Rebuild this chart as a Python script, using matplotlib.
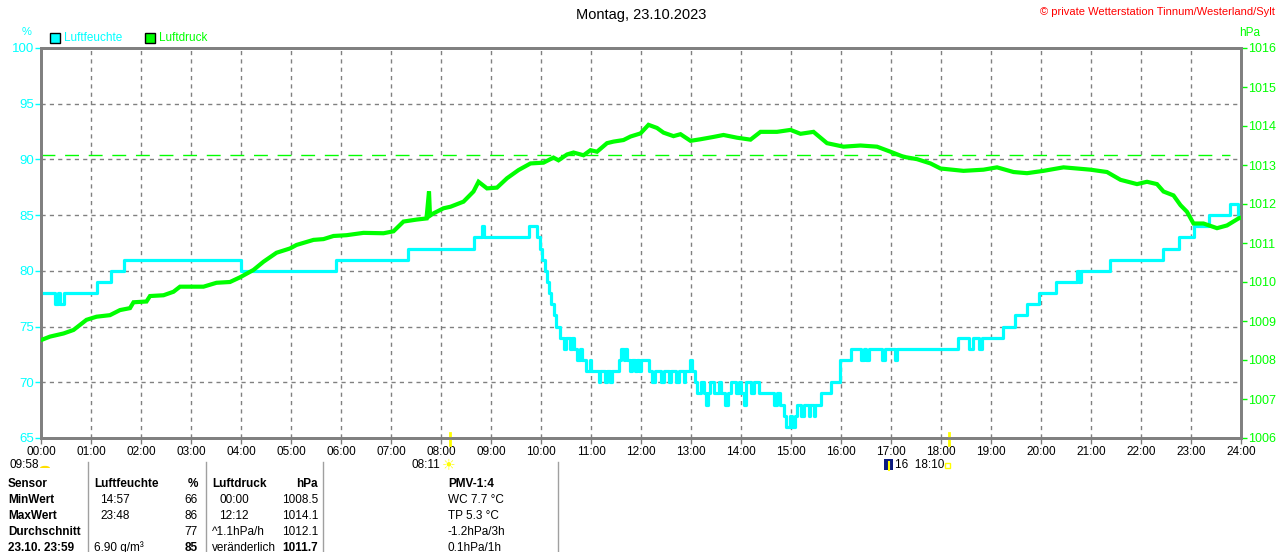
import matplotlib
matplotlib.use("Agg")
import matplotlib.pyplot as plt
from matplotlib.patches import Rectangle, Wedge

plt.rcParams['font.family'] = ['Liberation Sans', 'DejaVu Sans']
plt.rcParams['font.size'] = 8

# Luftfeuchte (%), step values: (hour, value)
hum_t = [0, 0.28, 0.33, 0.38, 0.45, 1.11, 1.39, 1.66, 3.99, 5.89, 7.34, 8.65, 8.82, 8.86,
         9.75, 9.92, 9.97, 10.02, 10.07, 10.11, 10.15, 10.20, 10.25, 10.30, 10.37,
         10.45, 10.50, 10.58, 10.62, 10.66, 10.72, 10.78, 10.82, 10.90, 10.97, 11.00,
         11.15, 11.18, 11.28, 11.31, 11.38, 11.42, 11.55, 11.60, 11.65, 11.68, 11.72,
         11.78, 11.82, 11.88, 11.92, 11.96, 12.00, 12.15, 12.22, 12.27, 12.40, 12.45,
         12.55, 12.60, 12.70, 12.75, 12.85, 12.88, 12.97, 13.02, 13.08, 13.12, 13.20,
         13.25, 13.30, 13.33, 13.38, 13.45, 13.55, 13.60, 13.68, 13.73, 13.80, 13.90,
         13.95, 14.00, 14.05, 14.09, 14.20, 14.25, 14.35, 14.65, 14.72, 14.78, 14.85,
         14.90, 14.97, 15.02, 15.07, 15.12, 15.20, 15.25, 15.35, 15.38, 15.45, 15.48,
         15.60, 15.80, 15.98, 16.20, 16.40, 16.45, 16.50, 16.55, 16.83, 16.87, 17.08,
         17.12, 18.34, 18.55, 18.65, 18.75, 18.82, 19.24, 19.47, 19.72, 19.95, 20.30,
         20.72, 20.76, 20.80, 21.37, 22.44, 22.75, 23.05, 23.35, 23.77, 23.93, 24.00]
hum_v = [78, 77, 78, 77, 78, 79, 80, 81, 80, 81, 82, 83, 84, 83,
         84, 83, 82, 81, 80, 79, 78, 77, 76, 75, 74,
         73, 74, 73, 74, 73, 72, 73, 72, 71, 72, 71,
         70, 71, 70, 71, 70, 71, 72, 73, 72, 73, 72,
         71, 72, 71, 72, 71, 72, 71, 70, 71, 70, 71,
         70, 71, 70, 71, 70, 71, 72, 71, 70, 69, 70,
         69, 68, 69, 70, 69, 70, 69, 68, 69, 70, 69,
         70, 69, 68, 70, 69, 70, 69, 68, 69, 68, 67,
         66, 67, 66, 67, 68, 67, 68, 67, 68, 67, 68,
         69, 70, 72, 73, 72, 73, 72, 73, 72, 73, 72,
         73, 74, 73, 74, 73, 74, 75, 76, 77, 78, 79,
         80, 79, 80, 81, 82, 83, 84, 85, 86, 85, 85]

# Luftdruck (hPa)
pres_t = [0, 0.18, 0.45, 0.65, 0.91, 1.11, 1.38, 1.58, 1.78, 1.85, 2.11, 2.18, 2.45, 2.65,
          2.78, 2.98, 3.25, 3.51, 3.78, 3.98, 4.25, 4.45, 4.71, 4.98, 5.11, 5.45, 5.65,
          5.85, 6.11, 6.45, 6.85, 7.05, 7.25, 7.51, 7.71, 7.76, 7.78, 7.85, 8.05, 8.19,
          8.45, 8.65, 8.75, 8.92, 9.12, 9.32, 9.55, 9.79, 10.05, 10.25, 10.35, 10.52,
          10.65, 10.85, 10.99, 11.12, 11.32, 11.45, 11.65, 11.79, 11.99, 12.15, 12.32,
          12.45, 12.65, 12.79, 12.99, 13.19, 13.45, 13.65, 13.92, 14.19, 14.39, 14.72,
          14.99, 15.19, 15.45, 15.72, 16.05, 16.39, 16.72, 16.99, 17.25, 17.52, 17.79,
          17.99, 18.45, 18.85, 19.12, 19.45, 19.72, 20.05, 20.45, 20.99, 21.32, 21.59,
          21.92, 22.12, 22.32, 22.45, 22.65, 22.79, 22.92, 23.05, 23.25, 23.52, 23.72,
          23.95, 24.00]
pres_v = [1008.51, 1008.60, 1008.68, 1008.77, 1009.03, 1009.11, 1009.15, 1009.28, 1009.33,
          1009.48, 1009.50, 1009.64, 1009.66, 1009.75, 1009.88, 1009.88, 1009.88, 1009.98,
          1010.00, 1010.12, 1010.31, 1010.52, 1010.75, 1010.86, 1010.95, 1011.08, 1011.10,
          1011.18, 1011.20, 1011.26, 1011.25, 1011.30, 1011.55, 1011.60, 1011.63, 1012.32,
          1011.70, 1011.76, 1011.89, 1011.93, 1012.06, 1012.32, 1012.57, 1012.40, 1012.42,
          1012.66, 1012.87, 1013.04, 1013.06, 1013.19, 1013.12, 1013.27, 1013.32, 1013.25,
          1013.38, 1013.34, 1013.56, 1013.60, 1013.64, 1013.73, 1013.81, 1014.03, 1013.95,
          1013.83, 1013.74, 1013.79, 1013.62, 1013.66, 1013.72, 1013.77, 1013.70, 1013.65,
          1013.85, 1013.85, 1013.90, 1013.80, 1013.85, 1013.56, 1013.47, 1013.50, 1013.47,
          1013.34, 1013.21, 1013.15, 1013.04, 1012.91, 1012.85, 1012.88, 1012.94, 1012.82,
          1012.79, 1012.85, 1012.94, 1012.88, 1012.82, 1012.62, 1012.51, 1012.57, 1012.51,
          1012.32, 1012.22, 1011.97, 1011.80, 1011.50, 1011.50, 1011.38, 1011.45, 1011.63,
          1011.65]

hours = list(range(25))
hour_labels = [f"{h:02d}:00" for h in hours]
hum_ticks = [65, 70, 75, 80, 85, 90, 95, 100]
pres_ticks = list(range(1006, 1017))
norm_pressure = 1013.25

CYAN = '#00ffff'
LIME = '#00ff00'
GRAY = '#808080'

W, H = 1280, 552
fig = plt.figure(figsize=(W / 100, H / 100), dpi=100)
ax = fig.add_axes([41 / W, 1 - 438 / H, 1200 / W, 390 / H])

ax.step(hum_t, hum_v, where='post', color=CYAN, lw=2.3, zorder=3)
ax.set_xlim(0, 24)
ax.set_ylim(65, 100)
ax.set_xticks(hours)
ax.set_xticklabels(hour_labels)
ax.set_yticks(hum_ticks)
ax.tick_params(axis='y', colors=CYAN, labelsize=9.5, length=4, width=1, pad=1)
ax.tick_params(axis='x', colors=GRAY, labelcolor='black', labelsize=8.5, length=4, width=1, pad=2)
ax.grid(True, color=GRAY, linestyle=(0, (3, 3)), linewidth=1)
for s in ax.spines.values():
    s.set_color(GRAY)
    s.set_linewidth(2)

ax2 = ax.twinx()
ax2.plot(pres_t, pres_v, color=LIME, lw=3, solid_joinstyle='miter', zorder=4)
ax2.axhline(norm_pressure, xmin=0, xmax=1189 / 1200, color=LIME, lw=1, linestyle=(0, (10, 7)))
ax2.set_ylim(1006, 1016)
ax2.set_yticks(pres_ticks)
ax2.tick_params(axis='y', colors=LIME, labelsize=9, length=4, width=1, pad=1)
for s in ax2.spines.values():
    s.set_color(GRAY)
    s.set_linewidth(2)

# sunrise / sunset markers on the time axis
for t in [8 + 11 / 60, 18 + 10 / 60]:
    ax.axvline(t, ymin=-0.018, ymax=0.013, color='yellow', lw=2, clip_on=False, zorder=5)


def ftext(x, y, s, **kw):
    fig.text(x / W, 1 - y / H, s, va='center', **kw)


ftext(641, 15, "Montag, 23.10.2023", ha='center', fontsize=10.5)
ftext(1275, 12, "\u00a9 private Wetterstation Tinnum/Westerland/Sylt", ha='right', color='red', fontsize=8)
ftext(27, 32, "%", ha='center', color=CYAN, fontsize=8)
ftext(1250, 33, "hPa", ha='center', color=LIME, fontsize=8.5)

# legend
fig.patches.append(Rectangle((50 / W, 1 - 43 / H), 10 / W, 10 / H, transform=fig.transFigure,
                             facecolor=CYAN, edgecolor='black', lw=1))
ftext(64, 38, "Luftfeuchte", color=CYAN, fontsize=8.5)
fig.patches.append(Rectangle((145 / W, 1 - 43 / H), 10 / W, 10 / H, transform=fig.transFigure,
                             facecolor=LIME, edgecolor='black', lw=1))
ftext(159, 38, "Luftdruck", color=LIME, fontsize=8.5)

# sun / moon info below the axis
ftext(10, 465, "09:58", fontsize=8.5)
fig.patches.append(Wedge((45 / W, 1 - 468 / H), 5 / W, 0, 180, transform=fig.transFigure,
                         facecolor='#ffe000', edgecolor='none'))
ftext(440, 465, "08:11", ha='right', fontsize=8.5)
ftext(449, 465, "\u2600", ha='center', color='yellow', fontsize=11, family=['DejaVu Sans'])
fig.patches.append(Rectangle((884 / W, 1 - 470 / H), 9 / W, 11 / H, transform=fig.transFigure,
                             facecolor='#0a1a80', edgecolor='none'))
fig.add_artist(plt.Line2D([888.5 / W, 888.5 / W], [1 - 470 / H, 1 - 462 / H], color='yellow', lw=1.5))
ftext(895, 465, "16  18:10", fontsize=8.5)
fig.patches.append(Rectangle((945 / W, 1 - 468 / H), 5 / W, 5 / H, transform=fig.transFigure,
                             facecolor='none', edgecolor='yellow', lw=1))

# statistics table
for x in [88, 206, 323, 558]:
    fig.add_artist(plt.Line2D([x / W, x / W], [0, 1 - 462 / H], color='#a0a0a0', lw=1))

row_y = [484, 500, 516, 532, 548]
col0 = ["Sensor", "MinWert", "MaxWert", "Durchschnitt", "23.10. 23:59"]
hum_time = ["Luftfeuchte", "14:57", "23:48", "", "6.90 g/m\u00b3"]
hum_val = ["%", "66", "86", "77", "85"]
pres_time = ["Luftdruck", "00:00", "12:12", "^1.1hPa/h", "ver\u00e4nderlich"]
pres_val = ["hPa", "1008.5", "1014.1", "1012.1", "1011.7"]
pmv = ["PMV-1:4", "WC 7.7 \u00b0C", "TP 5.3 \u00b0C", "-1.2hPa/3h", "0.1hPa/1h"]

for i, y in enumerate(row_y):
    head = i == 0
    ftext(8, y, col0[i], fontweight='bold', fontsize=8.5)
    ftext(94 if head or i == 4 else 100, y, hum_time[i], fontweight='bold' if head else 'normal', fontsize=8.5)
    ftext(198, y, hum_val[i], ha='right', fontweight='bold' if head or i == 4 else 'normal', fontsize=8.5)
    ftext(212 if head or i >= 3 else 219, y, pres_time[i], fontweight='bold' if head else 'normal', fontsize=8.5)
    ftext(318, y, pres_val[i], ha='right', fontweight='bold' if head or i == 4 else 'normal', fontsize=8.5)
    ftext(448, y, pmv[i], fontweight='bold' if head else 'normal', fontsize=8.5)

fig.savefig("out.png", dpi=100)
